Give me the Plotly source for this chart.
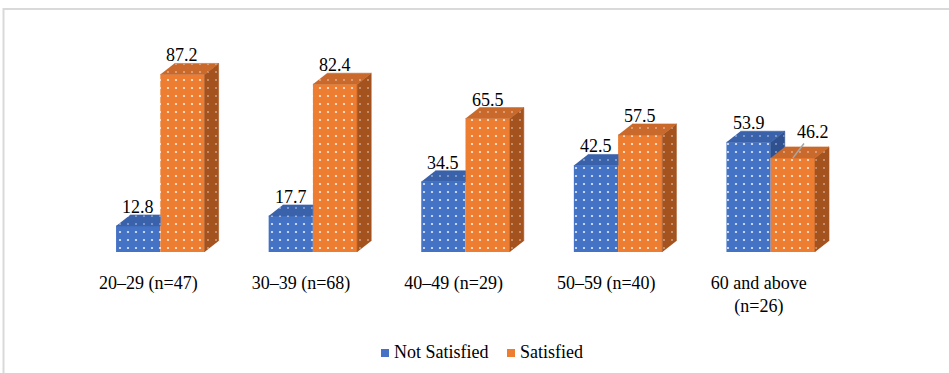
import plotly.graph_objects as go

# ---- data -------------------------------------------------------------
categories = ["20–29 (n=47)", "30–39 (n=68)", "40–49 (n=29)",
              "50–59 (n=40)", "60 and above<br>(n=26)"]
series_names = ["Not Satisfied", "Satisfied"]
not_satisfied = [12.8, 17.7, 34.5, 42.5, 53.9]
satisfied = [87.2, 82.4, 65.5, 57.5, 46.2]

# ---- layout constants -------------------------------------------------
W, H = 949, 373
ML, MR, MT, MB = 84, 102, 28, 121
PW, PH = W - ML - MR, H - MT - MB
Y_MAX = 110
BAR_W = 0.29          # width of each front face (x units)
DEPTH_X = 0.092       # 3-D depth offset along x (x units)
DEPTH_Y = 5.4         # 3-D depth offset along y (y units)
LABEL_SHIFT = -0.078  # category label offset from group centre

FONT = "Liberation Serif"
FRONT = ["#4472C4", "#ED7D31"]
TOP = ["#3A62AA", "#C9692B"]
SIDE = ["#2F5190", "#A4531F"]

# legend entries: left pixel of swatch, swatch size, centre line
LEGEND_X = [381, 507]
LEGEND_Y = 352
SWATCH = 8


def px_to_paper_x(px):
    return (px - ML) / PW


def px_to_paper_y(py):
    return (H - MB - py) / PH


values = [not_satisfied, satisfied]
xs = list(range(len(categories)))

fig = go.Figure()

# front faces as real bars with a white dot pattern
for s, name in enumerate(series_names):
    fig.add_trace(go.Bar(
        x=xs, y=values[s], name=name,
        width=BAR_W, offset=-BAR_W if s == 0 else 0,
        marker=dict(color=FRONT[s], line=dict(width=0),
                    pattern=dict(shape=".", fgcolor="white", bgcolor=FRONT[s],
                                 size=8, solidity=0.06, fgopacity=0.85)),
        hoverinfo="skip", showlegend=False,
    ))


def face(xpts, ypts, color, dots_color):
    fig.add_trace(go.Scatter(
        x=xpts, y=ypts, mode="lines", fill="toself",
        fillcolor=color, line=dict(width=0.6, color=color),
        fillpattern=dict(shape=".", fgcolor=dots_color, bgcolor=color,
                         size=8, solidity=0.05, fgopacity=0.45),
        showlegend=False, hoverinfo="skip", cliponaxis=False,
    ))


# top and side faces, blue series first so orange ones overlap them
for s in range(2):
    other = values[1 - s]
    for i in xs:
        v = values[s][i]
        xl = i - BAR_W if s == 0 else i
        xr = xl + BAR_W
        # top face
        if s == 0 and other[i] > v:
            tx = [xl, xr, xr, xl + DEPTH_X]
            ty = [v, v, v + DEPTH_Y, v + DEPTH_Y]
        else:
            tx = [xl, xr, xr + DEPTH_X, xl + DEPTH_X]
            ty = [v, v, v + DEPTH_Y, v + DEPTH_Y]
        # side face (blue side is hidden behind the orange bar unless taller)
        if s == 0:
            if other[i] < v:
                c = max(other[i], 0)
                face([xr, xr, xr + DEPTH_X, xr + DEPTH_X],
                     [c, v, v + DEPTH_Y, c], SIDE[s], "white")
        else:
            face([xr, xr, xr + DEPTH_X, xr + DEPTH_X],
                 [0, v, v + DEPTH_Y, DEPTH_Y], SIDE[s], "white")
        face(tx, ty, TOP[s], "white")

# value labels
annotations = []
for s in range(2):
    for i in xs:
        v = values[s][i]
        xc = i - BAR_W / 2 if s == 0 else i + BAR_W / 2
        if s == 1 and v < values[0][i]:
            annotations.append(dict(
                x=xc, y=v, text=f"{v:.1f}", showarrow=True, arrowhead=0,
                arrowwidth=1.5, arrowcolor="#A6A6A6", ax=20, ay=-26,
                font=dict(family=FONT, size=18, color="#000000")))
        else:
            annotations.append(dict(
                x=xc, y=v + DEPTH_Y, text=f"{v:.1f}", showarrow=False,
                yanchor="bottom", yshift=-4,
                font=dict(family=FONT, size=18, color="#000000")))

# compact legend: coloured swatch followed closely by the series name
shapes = []
for s, name in enumerate(series_names):
    x0 = LEGEND_X[s]
    shapes.append(dict(
        type="rect", xref="paper", yref="paper",
        x0=px_to_paper_x(x0), x1=px_to_paper_x(x0 + SWATCH),
        y0=px_to_paper_y(LEGEND_Y + SWATCH / 2 + 1),
        y1=px_to_paper_y(LEGEND_Y - SWATCH / 2 + 1),
        fillcolor=FRONT[s], line=dict(width=0)))
    annotations.append(dict(
        xref="paper", yref="paper", x=px_to_paper_x(x0 + SWATCH + 3),
        y=px_to_paper_y(LEGEND_Y), xanchor="left", yanchor="middle",
        text=name, showarrow=False,
        font=dict(family=FONT, size=18, color="#000000")))

# light frame around the chart area
shapes.append(dict(type="rect", xref="paper", yref="paper",
                   x0=px_to_paper_x(3.5), x1=px_to_paper_x(W + 20),
                   y0=px_to_paper_y(H + 20), y1=px_to_paper_y(9),
                   line=dict(color="#D9D9D9", width=2),
                   fillcolor="rgba(0,0,0,0)", layer="below"))

fig.update_layout(
    width=W, height=H,
    margin=dict(l=ML, r=MR, t=MT, b=MB, pad=0, autoexpand=False),
    paper_bgcolor="white", plot_bgcolor="white",
    barmode="overlay",
    font=dict(family=FONT, size=18, color="#000000"),
    xaxis=dict(range=[-0.5, len(categories) - 0.5], showgrid=False,
               zeroline=False, showline=False, ticks="", automargin=False,
               tickvals=[i + LABEL_SHIFT for i in xs], ticktext=categories,
               tickfont=dict(family=FONT, size=18, color="#000000"),
               ticklabelstandoff=18),
    yaxis=dict(range=[0, Y_MAX], visible=False, fixedrange=True,
               automargin=False),
    showlegend=False,
    annotations=annotations,
    shapes=shapes,
)

fig.write_html("out.html")
